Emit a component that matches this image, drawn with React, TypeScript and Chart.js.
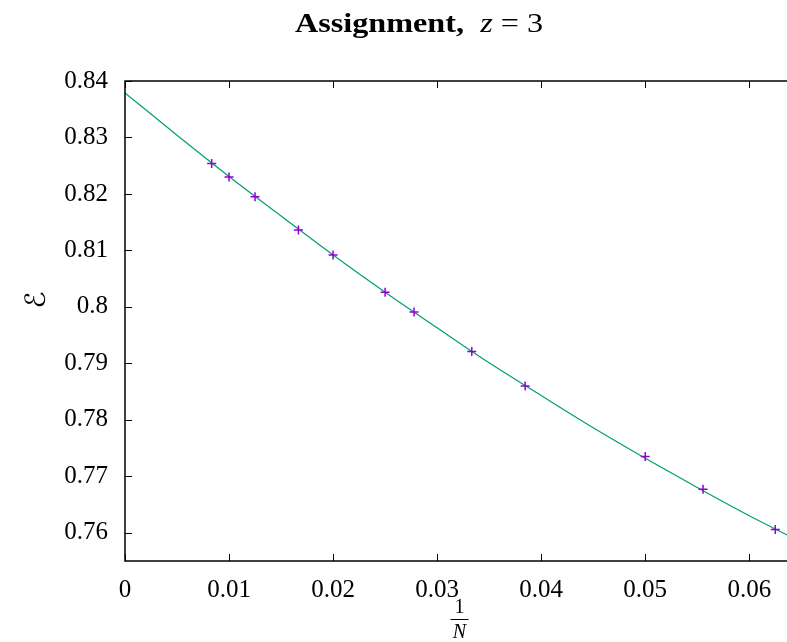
import React, { useEffect, useRef } from "react";
import { Chart, registerables } from "chart.js";

Chart.register(...registerables);

// Measured energies against inverse system size
const inverseN = [0.00833, 0.01, 0.0125, 0.01667, 0.02, 0.025, 0.02778, 0.03333, 0.03846, 0.05, 0.05556, 0.0625];
const energy = [0.8254, 0.823, 0.8195, 0.8136, 0.8092, 0.8026, 0.7991, 0.7921, 0.786, 0.7735, 0.7677, 0.7606];

// Extrapolation curve sampled along the x range
const fitX = [0, 0.005, 0.01, 0.015, 0.02, 0.025, 0.03, 0.035, 0.04, 0.045, 0.05, 0.055, 0.06, 0.0643];
const fitY = [0.8379, 0.8304, 0.8231, 0.8161, 0.8092, 0.8026, 0.7963, 0.7901, 0.7843, 0.7786, 0.7732, 0.768, 0.763, 0.759];

// Axis tick values
const xTicks = [0, 0.01, 0.02, 0.03, 0.04, 0.05, 0.06];
const yTicks = [0.76, 0.77, 0.78, 0.79, 0.8, 0.81, 0.82, 0.83, 0.84];

const SERIF = "'Liberation Serif', 'Times New Roman', serif";

const fmt = (v: number) => String(Number(v.toFixed(2)));

const frame = {
  id: "frame",
  afterDraw(chart: any) {
    const { ctx, chartArea } = chart;
    const { left, right, top, bottom } = chartArea;
    const xs = chart.scales.x;
    const ys = chart.scales.y;
    ctx.save();
    ctx.strokeStyle = "#000";
    ctx.lineWidth = 1;
    const tl = 7;
    ctx.beginPath();
    yTicks.forEach((v) => {
      const py = Math.round(ys.getPixelForValue(v)) + 0.5;
      ctx.moveTo(left, py);
      ctx.lineTo(left + tl, py);
      ctx.moveTo(right, py);
      ctx.lineTo(right - tl, py);
    });
    xTicks.forEach((v) => {
      const px = Math.round(xs.getPixelForValue(v)) + 0.5;
      ctx.moveTo(px, bottom);
      ctx.lineTo(px, bottom - tl);
      ctx.moveTo(px, top);
      ctx.lineTo(px, top + tl);
    });
    ctx.stroke();
    ctx.lineWidth = 1.5;
    ctx.strokeRect(left, top, right - left, bottom - top);

    // Title: bold word followed by an italic math variable, slightly widened
    ctx.fillStyle = "#000";
    ctx.textBaseline = "alphabetic";
    ctx.textAlign = "left";
    const sx = 1.15;
    const parts: [string, string][] = [
      ["Assignment,", `bold 28px ${SERIF}`],
      ["  ", `28px ${SERIF}`],
      ["z", `italic 28px ${SERIF}`],
      [" = 3", `28px ${SERIF}`],
    ];
    let total = 0;
    parts.forEach(([t, f]) => {
      ctx.font = f;
      total += ctx.measureText(t).width * sx;
    });
    let x = 419 - total / 2;
    parts.forEach(([t, f]) => {
      ctx.font = f;
      ctx.save();
      ctx.translate(x, 32);
      ctx.scale(sx, 1);
      ctx.fillText(t, 0, 0);
      ctx.restore();
      x += ctx.measureText(t).width * sx;
    });

    // x-axis label: fraction 1/N
    const cx = (left + right) / 2;
    ctx.textAlign = "center";
    ctx.textBaseline = "alphabetic";
    ctx.font = `20px ${SERIF}`;
    ctx.fillText("1", cx, 613);
    ctx.font = `italic 20px ${SERIF}`;
    ctx.fillText("N", cx, 638);
    ctx.beginPath();
    ctx.lineWidth = 1;
    ctx.moveTo(cx - 9, 619.5);
    ctx.lineTo(cx + 9, 619.5);
    ctx.stroke();

    // y-axis label: script E, rotated
    ctx.save();
    ctx.translate(38, 300);
    ctx.rotate(-Math.PI / 2);
    ctx.textAlign = "center";
    ctx.textBaseline = "middle";
    ctx.font = `italic 28px 'DejaVu Serif', 'DejaVu Sans', serif`;
    ctx.fillText("\u2130", 0, 0);
    ctx.restore();

    ctx.restore();
  },
};

export default function App() {
  const canvasRef = useRef<HTMLCanvasElement | null>(null);

  useEffect(() => {
    document.body.style.margin = "0";
    const canvas = canvasRef.current;
    if (!canvas) return;
    const chart = new Chart(canvas, {
      type: "scatter",
      data: {
        datasets: [
          {
            label: "data",
            data: inverseN.map((x, i) => ({ x, y: energy[i] })),
            showLine: false,
            pointStyle: "cross",
            pointRadius: 4.5,
            pointBorderWidth: 1.5,
            borderColor: "#9400D3",
            backgroundColor: "#9400D3",
          },
          {
            label: "fit",
            data: fitX.map((x, i) => ({ x, y: fitY[i] })),
            showLine: true,
            pointRadius: 0,
            borderColor: "#009E73",
            borderWidth: 1.2,
            cubicInterpolationMode: "monotone",
          },
        ],
      },
      options: {
        responsive: false,
        animation: false,
        events: [],
        layout: { padding: { top: 81, left: 0, right: 5, bottom: 0 } },
        plugins: {
          legend: { display: false },
          title: { display: false },
          tooltip: { enabled: false },
        },
        scales: {
          x: {
            type: "linear",
            min: 0,
            max: 0.0643,
            grid: { display: false, drawTicks: false },
            border: { display: false },
            afterBuildTicks: (s: any) => {
              s.ticks = xTicks.map((v) => ({ value: v }));
            },
            afterFit: (s: any) => {
              s.height = 81;
            },
            ticks: {
              padding: 14,
              color: "#000",
              font: { family: SERIF, size: 25 },
              callback: (v: any) => fmt(Number(v)),
            },
          },
          y: {
            type: "linear",
            min: 0.755,
            max: 0.84,
            grid: { display: false, drawTicks: false },
            border: { display: false },
            afterBuildTicks: (s: any) => {
              s.ticks = yTicks.map((v) => ({ value: v }));
            },
            afterFit: (s: any) => {
              s.width = 125;
            },
            ticks: {
              padding: 17,
              color: "#000",
              font: { family: SERIF, size: 25 },
              callback: (v: any) => fmt(Number(v)),
            },
          },
        },
      },
      plugins: [frame],
    });
    return () => chart.destroy();
  }, []);

  return (
    <div style={{ width: 787, height: 642, overflow: "hidden", background: "#fff" }}>
      <canvas ref={canvasRef} width={800} height={642} style={{ display: "block" }} />
    </div>
  );
}
